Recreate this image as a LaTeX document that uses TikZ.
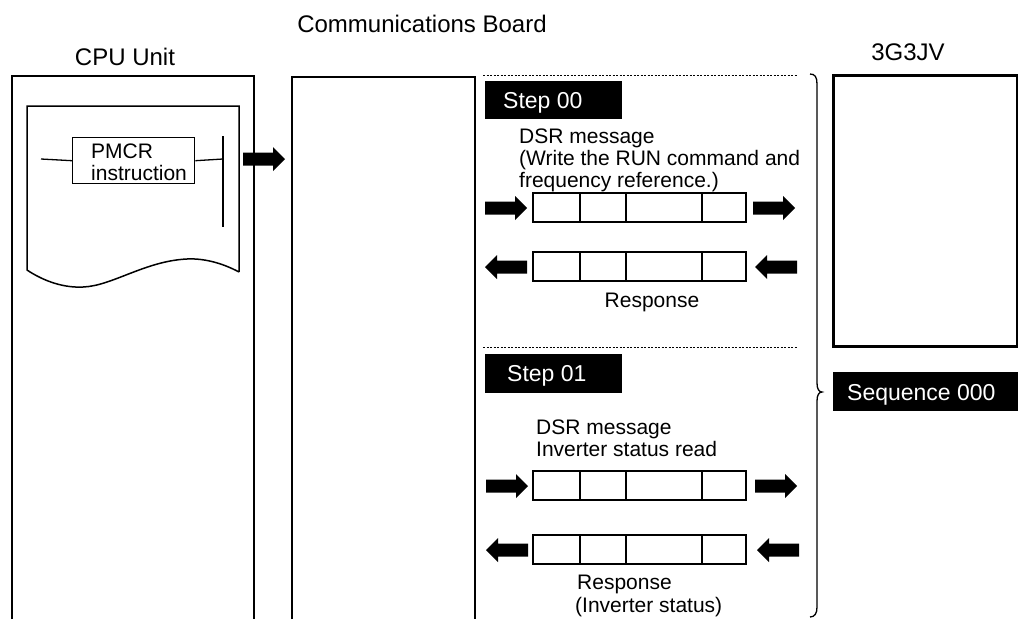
\documentclass[tikz,border=0pt]{standalone}
\usepackage{fontspec}
\setmainfont{Liberation Sans}
\begin{document}
\begin{tikzpicture}[x=1pt,y=-1pt,
  ttl/.style={font=\fontsize{24}{25}\selectfont, inner sep=0pt, anchor=base},
  body/.style={font=\fontsize{21}{22}\selectfont, inner sep=0pt, anchor=base west},
  wtxt/.style={font=\fontsize{23}{24}\selectfont, inner sep=0pt, anchor=base west, text=white},
  unitbox/.style={line width=2.6pt},
  thinline/.style={line width=1.5pt},
  dotline/.style={line width=1pt, dash pattern=on 2pt off 1.5pt},
  blk/.style={fill=black, draw=none, inner sep=0pt, anchor=north west},
  barrow/.pic={\fill (0,-6.5) -- (30,-6.5) -- (30,-12) -- (42,0) -- (30,12) -- (30,6.5) -- (0,6.5) -- cycle;},
  frame/.pic={\draw[line width=1.4pt] (0,0) rectangle (213,29);
    \draw[line width=1.4pt] (47,0) -- (47,29) (93,0) -- (93,29) (169,0) -- (169,29);}
]
\useasboundingbox (0,0) rectangle (1018,619);

% titles
\node[ttl] (tcb) at (422,32) {Communications Board};
\node[ttl] (tcpu) at (125,65) {CPU Unit};
\node[ttl] (t3g) at (908,60) {3G3JV};

% CPU unit
\draw[unitbox] (12,619) -- (12,76) -- (254,76) -- (254,619);
\draw[thinline] (239,272) -- (239,106) -- (27,106) -- (27,270)
  .. controls (45,282) and (65,288) .. (83,287)
  .. controls (112,286) and (145,261) .. (187,259)
  .. controls (207,258) and (226,265) .. (239,272);
\node[draw, line width=1.4pt, minimum width=122pt, minimum height=46pt, inner sep=0pt, anchor=north west] (pmcr) at (72,137) {};
\node[body] (tp1) at (91,158) {PMCR};
\node[body] (tp2) at (91,180) {instruction};
\coordinate (rl) at (41,159);
\coordinate (rr) at (223,159);
\coordinate (bt) at (223,136);
\coordinate (bb) at (223,227);
\draw[line width=1.3pt] (rl) -- (pmcr.west);
\draw[line width=1.3pt] (pmcr.east) -- (rr);
\draw[line width=1.6pt] (bt) -- (bb);
\pic at (243,159) {barrow};

% Communications board
\draw[unitbox] (292,619) -- (292,77) -- (475,77) -- (475,619);
\coordinate (d1a) at (483,75); \coordinate (d1b) at (798,75);
\coordinate (d2a) at (483,347); \coordinate (d2b) at (798,347);
\draw[dotline] (d1a) -- (d1b);
\draw[dotline] (d2a) -- (d2b);

% Step 00
\node[blk, minimum width=137pt, minimum height=38pt] (s0) at (485,81) {};
\node[wtxt] (s0t) at (503,108) {Step 00};
\node[body] (m1) at (519,143) {DSR message};
\node[body] (m2) at (519,165) {(Write the RUN command and};
\node[body] (m3) at (519,187) {frequency reference.)};
\pic at (533,193) {frame};
\pic at (533,252) {frame};
\pic at (485,208) {barrow};
\pic at (753,208) {barrow};
\pic[rotate=180] at (527,267) {barrow};
\pic[rotate=180] at (797,267) {barrow};
\node[body, anchor=base] (r1) at (652,307) {Response};

% Step 01
\node[blk, minimum width=137pt, minimum height=39pt] (s1) at (485,354) {};
\node[wtxt] (s1t) at (507,381) {Step 01};
\node[body] (m4) at (536,434) {DSR message};
\node[body] (m5) at (536,456) {Inverter status read};
\pic at (533,471) {frame};
\pic at (533,535) {frame};
\pic at (486,486) {barrow};
\pic at (755,486) {barrow};
\pic[rotate=180] at (528,550) {barrow};
\pic[rotate=180] at (799,550) {barrow};
\node[body] (r2) at (577,589) {Response};
\node[body] (r3) at (575,612) {(Inverter status)};

% brace
\draw[line width=1.3pt] (810,74) .. controls (815,74) and (817,77) .. (817,84)
  -- (817,383) .. controls (817,389) and (819,392) .. (822,392)
  .. controls (819,392) and (817,395) .. (817,401)
  -- (817,607) .. controls (817,613) and (815,617) .. (810,617);

% 3G3JV
\node[draw, line width=2.6pt, minimum width=184pt, minimum height=271pt, inner sep=0pt, anchor=north west] (inv) at (832,74) {};
\node[blk, minimum width=185pt, minimum height=39pt] (seq) at (833,372) {};
\node[wtxt] (seqt) at (847,400) {Sequence 000};
\end{tikzpicture}
\end{document}
